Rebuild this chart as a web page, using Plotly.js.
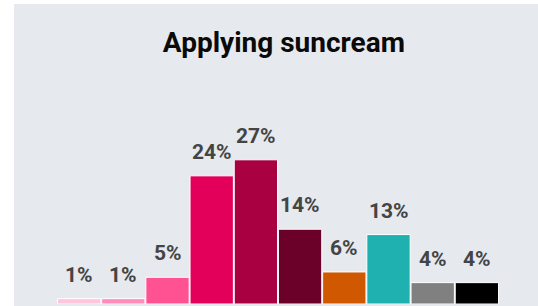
<!DOCTYPE html>
<html>
<head>
<meta charset="utf-8">
<script src="https://cdn.plot.ly/plotly-3.0.1.min.js"></script>
<style>
html,body{margin:0;padding:0;background:#ffffff;width:538px;height:306px;overflow:hidden;}
#chart{position:absolute;left:14px;top:4px;width:524px;height:302px;}
</style>
</head>
<body>
<div id="chart"></div>
<script>
const categories = ['c1','c2','c3','c4','c5','c6','c7','c8','c9','c10'];
const values = [1, 1, 5, 24, 27, 14, 6, 13, 4, 4];
const labels = ['1%','1%','5%','24%','27%','14%','6%','13%','4%','4%'];
const colors = ['#ffc6db','#ff8cbb','#ff5293','#e3005a','#a90042','#6b0029','#cf5800','#1eb1b0','#808080','#000000'];

const trace = {
  type: 'bar',
  x: categories,
  y: values,
  marker: {color: colors, line: {color: '#ffffff', width: 1}},
  hoverinfo: 'none'
};

const annotations = categories.map((c, i) => ({
  x: c, y: values[i], xref: 'x', yref: 'y',
  text: labels[i], showarrow: false,
  yanchor: 'bottom', yshift: 10,
  font: {family: 'Roboto, sans-serif', size: 21, color: '#444444', weight: 700}
}));

const layout = {
  width: 524, height: 302,
  margin: {l: 43, r: 39, t: 100, b: 2},
  paper_bgcolor: '#e6e9ee',
  plot_bgcolor: '#e6e9ee',
  title: {
    text: '<b>Applying suncream</b>',
    font: {family: 'Roboto, sans-serif', size: 28, color: '#0a0a0a', weight: 900},
    xref: 'container', x: 0.515, xanchor: 'center',
    yref: 'container', y: 0.872, yanchor: 'middle'
  },
  bargap: 0.02,
  xaxis: {visible: false, range: [-0.5, 9.5], fixedrange: true},
  yaxis: {visible: false, range: [0, 37.45], fixedrange: true},
  annotations: annotations,
  showlegend: false
};

Plotly.newPlot('chart', [trace], layout, {staticPlot: true, displayModeBar: false});
</script>
</body>
</html>
